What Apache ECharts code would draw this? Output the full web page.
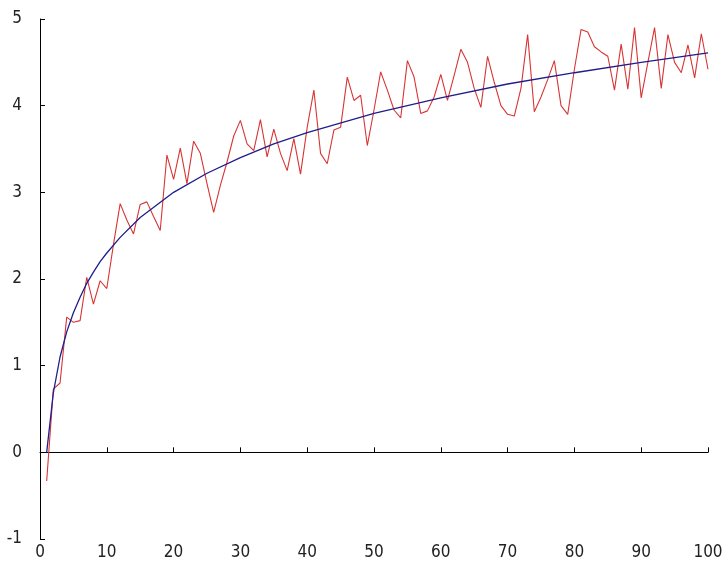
<!DOCTYPE html>
<html>
<head>
<meta charset="utf-8">
<script src="https://cdn.jsdelivr.net/npm/echarts@6/dist/echarts.min.js"></script>
<style>
  html, body { margin: 0; padding: 0; background: #fff; }
  #chart { width: 726px; height: 568px; }
</style>
</head>
<body>
<div id="chart"></div>
<script>
// noisy samples, one per x = 1..100
var noisyY = [
  -0.33, 0.73, 0.80, 1.56, 1.50, 1.52, 2.02, 1.71, 1.98, 1.89,
  2.40, 2.87, 2.68, 2.52, 2.86, 2.89, 2.72, 2.56, 3.43, 3.15,
  3.51, 3.10, 3.59, 3.45, 3.10, 2.77, 3.08, 3.35, 3.65, 3.83,
  3.56, 3.48, 3.84, 3.41, 3.73, 3.45, 3.25, 3.62, 3.21, 3.75,
  4.18, 3.45, 3.33, 3.72, 3.75, 4.33, 4.06, 4.12, 3.54, 3.95,
  4.39, 4.18, 3.95, 3.86, 4.52, 4.33, 3.91, 3.94, 4.10, 4.36,
  4.06, 4.35, 4.65, 4.50, 4.20, 3.98, 4.57, 4.27, 4.00, 3.90,
  3.88, 4.20, 4.82, 3.93, 4.10, 4.30, 4.52, 4.00, 3.90, 4.42,
  4.88, 4.85, 4.68, 4.62, 4.57, 4.18, 4.71, 4.19, 4.90, 4.09,
  4.50, 4.90, 4.20, 4.82, 4.50, 4.38, 4.70, 4.32, 4.83, 4.42
];
var noisyX = [];
for (var i = 1; i <= noisyY.length; i++) noisyX.push(i);

// smooth trend curve
var trendX = [1, 2, 3, 4, 5, 6, 7, 8, 9, 10, 12, 15, 20, 25, 30, 35, 40, 50, 60, 70, 80, 90, 100];
var trendY = [0, 0.69, 1.10, 1.39, 1.61, 1.79, 1.95, 2.08, 2.20, 2.30, 2.48, 2.71, 3.00, 3.22, 3.40, 3.56, 3.69, 3.91, 4.09, 4.25, 4.38, 4.50, 4.61];

function pairs(xs, ys) {
  return xs.map(function (x, k) { return [x, ys[k]]; });
}

var chart = echarts.init(document.getElementById('chart'));
var labelFont = {
  color: '#222',
  fontSize: 17,
  fontFamily: '"Liberation Sans Narrow", "DejaVu Sans Condensed", "Liberation Sans"'
};
var axisCommon = {
  axisLine: { show: true, lineStyle: { color: '#000', width: 1 } },
  axisTick: { show: true, inside: true, length: 5, lineStyle: { color: '#000' } },
  splitLine: { show: false }
};
var option = {
  backgroundColor: '#fff',
  animation: false,
  grid: { left: 40, right: 18, top: 19, bottom: 29 },
  xAxis: Object.assign({
    type: 'value', min: 0, max: 100, interval: 10,
    axisLabel: Object.assign({ margin: 5 }, labelFont)
  }, axisCommon),
  yAxis: Object.assign({
    type: 'value', min: -1, max: 5, interval: 1,
    axisLabel: Object.assign({ margin: 18 }, labelFont)
  }, axisCommon),
  series: [{
    type: 'line',
    data: pairs(noisyX, noisyY),
    showSymbol: false,
    lineStyle: { color: '#d83434', width: 1.1 },
    z: 2
  }, {
    type: 'line',
    data: pairs(trendX, trendY),
    showSymbol: false,
    lineStyle: { color: '#1e1e8c', width: 1.3 },
    z: 3
  }]
};
chart.setOption(option);
</script>
</body>
</html>
